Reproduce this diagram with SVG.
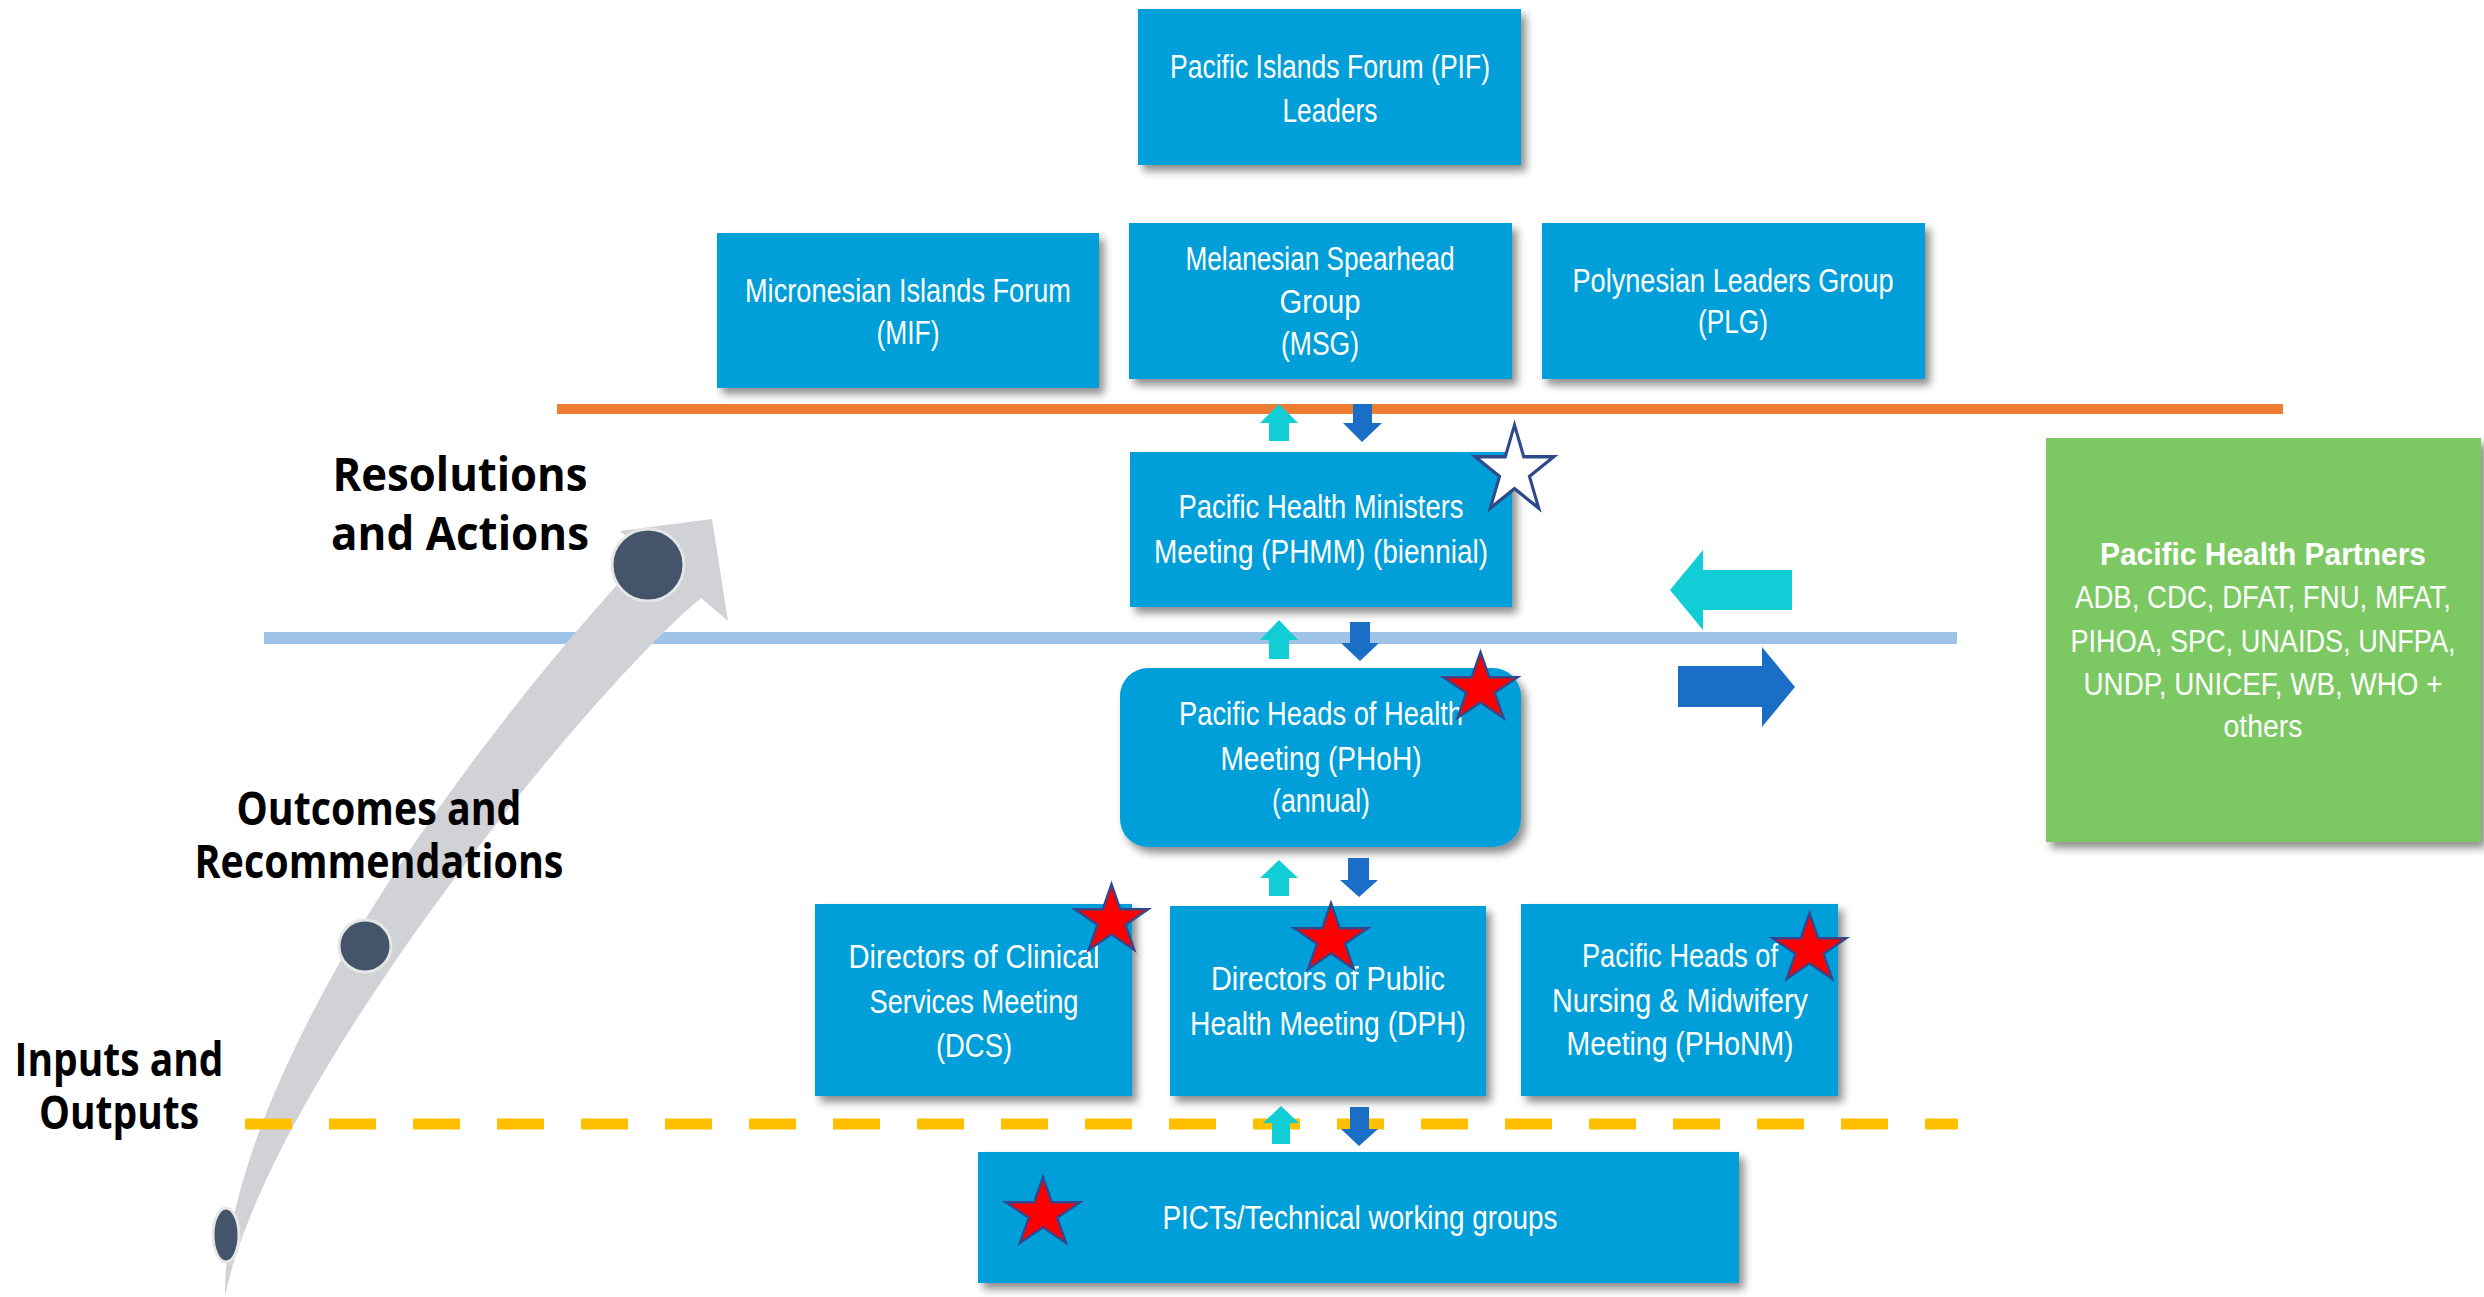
<svg xmlns="http://www.w3.org/2000/svg" xmlns:xlink="http://www.w3.org/1999/xlink" width="2484" height="1297" viewBox="0 0 2484 1297">
<style>
  .box { fill: #029FDA; filter: url(#sh); }
  .green { fill: #7CC963; filter: url(#sh); }
  .bt { font-family: "Liberation Sans", Arial, sans-serif; font-size: 33px; fill: #FFFFFF; text-anchor: middle; }
  .gt { font-family: "Liberation Sans", Arial, sans-serif; font-size: 31px; fill: #FFFFFF; text-anchor: middle; }
  .bold { font-weight: bold; }
  .lbl { font-family: "Open Sans", "Liberation Sans", sans-serif; font-weight: bold; font-size: 46px; fill: #000000; text-anchor: middle; }
  .up { fill: #11CDD6; }
  .down { fill: #1A6EC6; }
  .rstar { fill: #FF0000; stroke: #34478C; stroke-width: 2.5; }
  .wstar { fill: #FFFFFF; stroke: #2F4A8A; stroke-width: 3; }
  .dot { fill: #44546A; stroke: #E6E6E6; stroke-width: 3; }
</style>
<defs>
  <filter id="sh" x="-10%" y="-10%" width="130%" height="140%">
    <feDropShadow dx="5" dy="6" stdDeviation="4" flood-color="#000000" flood-opacity="0.45"/>
  </filter>
  <path id="star" d="M0,-40 L8.98,-12.36 L38.04,-12.36 L14.52,4.72 L23.52,32.36 L0,15.28 L-23.52,32.36 L-14.52,4.72 L-38.04,-12.36 L-8.98,-12.36 Z"/>
</defs>
<rect width="2484" height="1297" fill="#FFFFFF"/>

<g id="levels">
  <rect x="557" y="404" width="1726" height="10" fill="#ED7D31"/>
  <rect x="264" y="632" width="1693" height="12" fill="#9DC3E6"/>
</g>

<g id="progress-arrow">
  <path d="M225,1296 C222,1120 400,820 646,553 L620,531 L712,519 L728,621 L701,598 C590,690 270,1080 225,1296 Z" fill="#D0D2D6"/>
</g>

<g id="dashed-line">
  <line x1="245" y1="1124" x2="1958" y2="1124" stroke="#FFC000" stroke-width="11" stroke-dasharray="47 37"/>
</g>

<g id="progress-dots">
  <ellipse class="dot" cx="648" cy="565" rx="36" ry="36"/>
  <ellipse class="dot" cx="365" cy="946" rx="26" ry="26"/>
  <ellipse class="dot" cx="226" cy="1235" rx="13" ry="27"/>
</g>

<g id="labels">
  <text class="lbl" x="460" y="491" textLength="255" lengthAdjust="spacingAndGlyphs">Resolutions</text>
  <text class="lbl" x="460" y="550" textLength="258" lengthAdjust="spacingAndGlyphs">and Actions</text>
  <text class="lbl" x="379" y="825" textLength="285" lengthAdjust="spacingAndGlyphs">Outcomes and</text>
  <text class="lbl" x="379" y="878" textLength="369" lengthAdjust="spacingAndGlyphs">Recommendations</text>
  <text class="lbl" x="119" y="1076" textLength="209" lengthAdjust="spacingAndGlyphs">Inputs and</text>
  <text class="lbl" x="119" y="1129" textLength="160" lengthAdjust="spacingAndGlyphs">Outputs</text>
</g>

<g id="pif">
  <rect class="box" x="1138" y="9" width="383" height="156"/>
  <text class="bt" x="1330" y="78" textLength="320" lengthAdjust="spacingAndGlyphs">Pacific Islands Forum (PIF)</text>
  <text class="bt" x="1330" y="122" textLength="95" lengthAdjust="spacingAndGlyphs">Leaders</text>
</g>

<g id="mif">
  <rect class="box" x="717" y="233" width="382" height="155"/>
  <text class="bt" x="908" y="302" textLength="326" lengthAdjust="spacingAndGlyphs">Micronesian Islands Forum</text>
  <text class="bt" x="908" y="344" textLength="63" lengthAdjust="spacingAndGlyphs">(MIF)</text>
</g>

<g id="msg">
  <rect class="box" x="1129" y="223" width="383" height="156"/>
  <text class="bt" x="1320" y="270" textLength="269" lengthAdjust="spacingAndGlyphs">Melanesian Spearhead</text>
  <text class="bt" x="1320" y="313" textLength="81" lengthAdjust="spacingAndGlyphs">Group</text>
  <text class="bt" x="1320" y="355" textLength="78" lengthAdjust="spacingAndGlyphs">(MSG)</text>
</g>

<g id="plg">
  <rect class="box" x="1542" y="223" width="383" height="156"/>
  <text class="bt" x="1733" y="292" textLength="321" lengthAdjust="spacingAndGlyphs">Polynesian Leaders Group</text>
  <text class="bt" x="1733" y="333" textLength="70" lengthAdjust="spacingAndGlyphs">(PLG)</text>
</g>

<g id="phmm">
  <rect class="box" x="1130" y="452" width="382" height="155"/>
  <text class="bt" x="1321" y="518" textLength="285" lengthAdjust="spacingAndGlyphs">Pacific Health Ministers</text>
  <text class="bt" x="1321" y="563" textLength="334" lengthAdjust="spacingAndGlyphs">Meeting (PHMM) (biennial)</text>
  <use href="#star" class="wstar" vector-effect="non-scaling-stroke" transform="translate(1514.5,471) scale(1.03,1.15)"/>
</g>

<g id="phoh">
  <rect class="box" x="1120" y="668" width="401" height="179" rx="28" ry="28"/>
  <text class="bt" x="1321" y="725" textLength="284" lengthAdjust="spacingAndGlyphs">Pacific Heads of Health</text>
  <text class="bt" x="1321" y="770" textLength="201" lengthAdjust="spacingAndGlyphs">Meeting (PHoH)</text>
  <text class="bt" x="1321" y="812" textLength="98" lengthAdjust="spacingAndGlyphs">(annual)</text>
  <use href="#star" class="rstar" transform="translate(1480.5,688.5) scale(0.98,0.91)"/>
</g>

<g id="dcs">
  <rect class="box" x="815" y="904" width="317" height="192"/>
  <text class="bt" x="974" y="968" textLength="251" lengthAdjust="spacingAndGlyphs">Directors of Clinical</text>
  <text class="bt" x="974" y="1013" textLength="209" lengthAdjust="spacingAndGlyphs">Services Meeting</text>
  <text class="bt" x="974" y="1057" textLength="76" lengthAdjust="spacingAndGlyphs">(DCS)</text>
  <use href="#star" class="rstar" transform="translate(1111.5,920.5) scale(0.97,0.91)"/>
</g>

<g id="dph">
  <rect class="box" x="1170" y="906" width="316" height="190"/>
  <text class="bt" x="1328" y="990" textLength="234" lengthAdjust="spacingAndGlyphs">Directors of Public</text>
  <text class="bt" x="1328" y="1035" textLength="276" lengthAdjust="spacingAndGlyphs">Health Meeting (DPH)</text>
  <use href="#star" class="rstar" transform="translate(1331,939.5) scale(0.97,0.91)"/>
</g>

<g id="phonm">
  <rect class="box" x="1521" y="904" width="317" height="192"/>
  <text class="bt" x="1680" y="967" textLength="196" lengthAdjust="spacingAndGlyphs">Pacific Heads of</text>
  <text class="bt" x="1680" y="1012" textLength="256" lengthAdjust="spacingAndGlyphs">Nursing &amp; Midwifery</text>
  <text class="bt" x="1680" y="1055" textLength="227" lengthAdjust="spacingAndGlyphs">Meeting (PHoNM)</text>
  <use href="#star" class="rstar" transform="translate(1809.5,949.5) scale(0.97,0.91)"/>
</g>

<g id="picts">
  <rect class="box" x="978" y="1152" width="761" height="131"/>
  <text class="bt" x="1360" y="1229" textLength="395" lengthAdjust="spacingAndGlyphs">PICTs/Technical working groups</text>
  <use href="#star" class="rstar" transform="translate(1043,1213.5) scale(0.98,0.91)"/>
</g>

<g id="partners">
  <rect class="green" x="2046" y="438" width="435" height="404"/>
  <text class="gt bold" x="2263" y="565" textLength="326" lengthAdjust="spacingAndGlyphs">Pacific Health Partners</text>
  <text class="gt" x="2263" y="608" textLength="376" lengthAdjust="spacingAndGlyphs">ADB, CDC, DFAT, FNU, MFAT,</text>
  <text class="gt" x="2263" y="652" textLength="385" lengthAdjust="spacingAndGlyphs">PIHOA, SPC, UNAIDS, UNFPA,</text>
  <text class="gt" x="2263" y="695" textLength="359" lengthAdjust="spacingAndGlyphs">UNDP, UNICEF, WB, WHO +</text>
  <text class="gt" x="2263" y="737" textLength="79" lengthAdjust="spacingAndGlyphs">others</text>
</g>

<g id="connectors">
  <path class="up" d="M1279,404 L1298,423 L1289,423 L1289,441 L1269,441 L1269,423 L1260,423 Z"/>
  <path class="down" d="M1353,404 L1372,404 L1372,423 L1382,423 L1362,442 L1343,423 L1353,423 Z"/>
  <path class="up" d="M1279,620 L1298,640 L1289,640 L1289,659 L1269,659 L1269,640 L1260,640 Z"/>
  <path class="down" d="M1350,622 L1370,622 L1370,643 L1379,643 L1360,661 L1341,643 L1350,643 Z"/>
  <path class="up" d="M1279,860 L1298,878 L1289,878 L1289,896 L1269,896 L1269,878 L1260,878 Z"/>
  <path class="down" d="M1348,858 L1369,858 L1369,880 L1378,880 L1359,897 L1340,880 L1348,880 Z"/>
  <path class="up" d="M1281,1106 L1299,1123 L1290,1123 L1290,1144 L1272,1144 L1272,1123 L1263,1123 Z"/>
  <path class="down" d="M1350,1107 L1369,1107 L1369,1129 L1378,1129 L1359,1146 L1341,1129 L1350,1129 Z"/>
  <path class="up" d="M1670,590 L1703,550 L1703,570 L1792,570 L1792,610 L1703,610 L1703,630 Z"/>
  <path class="down" d="M1678,666 L1762,666 L1762,647 L1795,687 L1762,727 L1762,707 L1678,707 Z"/>
</g>
</svg>
